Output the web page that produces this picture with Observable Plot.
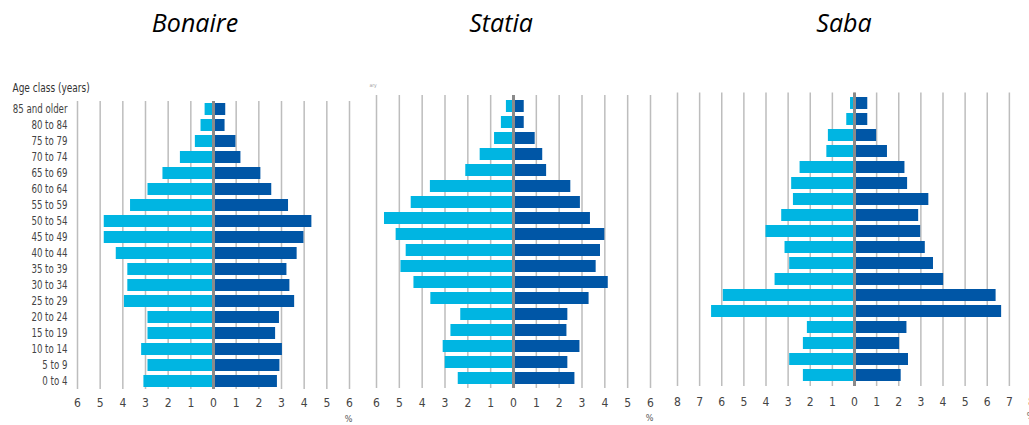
<!DOCTYPE html>
<html><head><meta charset="utf-8">
<script src="https://cdn.jsdelivr.net/npm/d3@7"></script>
<script src="https://cdn.jsdelivr.net/npm/@observablehq/plot@0.6"></script>
<style>
body{margin:0;background:#fff;overflow:hidden}
#c{position:relative;width:1029px;height:425px;overflow:hidden;background:#fff}
.t{position:absolute;top:5px;font-family:"Open Sans",sans-serif;font-style:italic;font-size:25px;color:#000;transform:translateX(-50%);white-space:nowrap}
.p{position:absolute;top:0}
</style></head><body><div id="c"></div>
<script>
const ages = ["0 to 4","5 to 9","10 to 14","15 to 19","20 to 24","25 to 29","30 to 34","35 to 39","40 to 44","45 to 49","50 to 54","55 to 59","60 to 64","65 to 69","70 to 74","75 to 79","80 to 84","85 and older"];
const titles = ["Bonaire","Statia","Saba"];
const bonaireLight = [3.07,2.89,3.17,2.89,2.89,3.93,3.78,3.78,4.29,4.82,4.82,3.66,2.89,2.23,1.46,0.80,0.55,0.37];
const bonaireDark  = [2.82,2.93,3.04,2.74,2.91,3.58,3.37,3.24,3.69,3.99,4.34,3.31,2.57,2.09,1.21,0.99,0.51,0.54];
const statiaLight  = [2.42,2.99,3.08,2.74,2.31,3.62,4.36,4.93,4.70,5.14,5.65,4.48,3.64,2.09,1.46,0.83,0.53,0.31];
const statiaDark   = [2.69,2.38,2.91,2.34,2.38,3.31,4.15,3.62,3.81,4.00,3.37,2.93,2.51,1.45,1.28,0.95,0.47,0.47];
const sabaLight    = [2.31,2.93,2.31,2.13,6.46,5.93,3.59,2.93,3.14,4.00,3.29,2.76,2.84,2.46,1.25,1.18,0.35,0.18];
const sabaDark     = [2.11,2.44,2.04,2.37,6.65,6.40,4.03,3.57,3.20,2.99,2.90,3.36,2.40,2.28,1.49,1.00,0.60,0.60];

const LIGHT = "#00b5e2", DARK = "#0056a6";
const FONT = '"DejaVu Sans Condensed",sans-serif';

function panel({left, width, ml, mr, mt, mb, max, lightVals, darkVals, showY, pad, extra}) {
  const data = ages.map((a, i) => ({age: a, light: lightVals[i], dark: darkVals[i]}));
  const ticks = d3.range(-max, max + 1);
  const marks = [
    Plot.ruleX(ticks, {stroke: "#bdbdbd", strokeWidth: 1.5}),
    Plot.barX(data, {y: "age", x: d => -d.light, fill: LIGHT}),
    Plot.barX(data, {y: "age", x: "dark", fill: DARK}),
    Plot.ruleX([0], {stroke: "#8a8a8a", strokeWidth: 3}),
    Plot.text(["%"], {frameAnchor: "bottom-right", text: d => d, dy: 32, dx: 3, fontSize: 9, fill: "#555"})
  ];
  if (showY) marks.push(Plot.text(["Age class (years)"], {frameAnchor: "top-left", text: d => d, dx: -65, dy: -18, fontSize: 12.5, fill: "#333"}));
  if (extra) marks.push(extra);
  const svg = Plot.plot({
    width, height: 425, marginLeft: ml, marginRight: mr, marginTop: mt, marginBottom: mb,
    style: {background: "transparent", fontFamily: FONT, fontSize: "12px", color: "#444", overflow: "visible"},
    x: {domain: [-max, max], ticks, tickFormat: d => Math.abs(d), tickSize: 0, tickPadding: pad, label: null},
    y: {domain: ages.slice().reverse(), paddingInner: 0.25, paddingOuter: 0.125, axis: showY ? "left" : null, tickSize: 0, tickPadding: 10, label: null},
    marks
  });
  svg.classList.add("p");
  svg.style.left = left + "px";
  return svg;
}

const c = document.getElementById("c");
const bon = panel({left: 0, width: 362, ml: 77, mr: 13, mt: 101, mb: 36, max: 6, lightVals: bonaireLight, darkVals: bonaireDark, showY: true, pad: 9});
c.append(bon);
c.append(panel({left: 362, width: 302, ml: 14, mr: 14, mt: 95, mb: 37, max: 6, lightVals: statiaLight, darkVals: statiaDark, showY: false, pad: 10,
  extra: Plot.text(["ary"], {frameAnchor: "top-left", text: d => d, dx: -7, dy: -12, fontSize: 5, fill: "#999"})}));
c.append(panel({left: 664, width: 369, ml: 13, mr: 2, mt: 92.5, mb: 39, max: 8, lightVals: sabaLight, darkVals: sabaDark, showY: false, pad: 11}));

// condense the age labels to mimic the narrow typeface of the original
bon.querySelectorAll("text").forEach(t => {
  if (/[a-z]/.test(t.textContent)) {
    const len = t.getComputedTextLength();
    t.setAttribute("textLength", (len * 0.8).toFixed(1));
    t.setAttribute("lengthAdjust", "spacingAndGlyphs");
  }
});

const centers = [195, 501, 844];
titles.forEach((t, i) => {
  const d = document.createElement("div");
  d.className = "t"; d.textContent = t; d.style.left = centers[i] + "px";
  c.append(d);
});
</script>
</body></html>
